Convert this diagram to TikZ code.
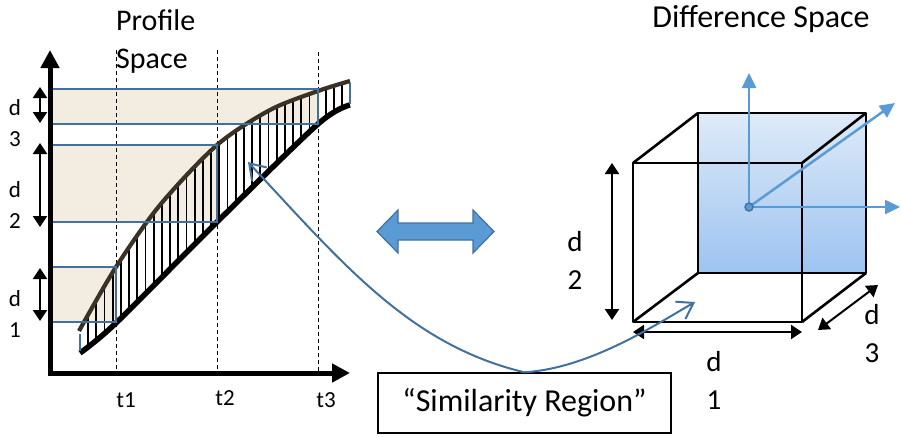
\documentclass[tikz,border=0pt]{standalone}
\usepackage{fontspec}
\setmainfont{Carlito}
\usetikzlibrary{arrows.meta}
\definecolor{edgeblue}{RGB}{65,113,156}
\definecolor{axblue}{RGB}{91,155,213}
\definecolor{tanc}{RGB}{243,236,224}
\definecolor{brownc}{RGB}{58,50,36}
\definecolor{gradtop}{RGB}{222,235,248}
\definecolor{gradbot}{RGB}{157,195,240}
\tikzset{
  axisarrow/.style={line width=5pt, -{Triangle[length=18pt,width=18pt]}},
  dimarrow/.style={line width=2pt, {Triangle[length=11pt,width=14pt]}-{Triangle[length=11pt,width=14pt]}},
  tline/.style={line width=1pt, dash pattern=on 4pt off 3pt},
  regbox/.style={edgeblue, line width=2.8pt},
  cubeedge/.style={line width=2.6pt, line join=round},
  cubeaxis/.style={axblue, line width=2.5pt, -{Triangle[length=15pt,width=14pt]}},
  link/.style={edgeblue, line width=2pt, -{Straight Barb[length=15pt,width=20pt]}},
  smalltxt/.style={font=\fontsize{23}{31}\selectfont, align=center, inner sep=0pt},
  bigtxt/.style={font=\fontsize{29}{38}\selectfont, align=center, inner sep=0pt},
  titletxt/.style={font=\fontsize{30}{38}\selectfont, align=left, inner sep=0pt}
}
\begin{document}
\begin{tikzpicture}[x=1pt,y=-1pt]
\useasboundingbox (0,0) rectangle (901,436);
% ---------- Profile space ----------
\node[titletxt, anchor=west] (ptitle) at (116,42) {Profile\\Space};
\fill[tanc] (50,89) rectangle (318,124);
\fill[tanc] (50,145) rectangle (217,222);
\fill[tanc] (50,267) rectangle (116,322);
\draw[tline] (116,50) -- (116,373);
\draw[tline] (217,50) -- (217,373);
\draw[tline] (318,52) -- (318,373);
\begin{scope}
\clip plot[smooth] coordinates {(79,331) (116,267) (160,205) (217,145) (270,110) (318,91) (350,81)}
  -- plot[smooth] coordinates {(350,105) (318,124) (217,222) (116,323) (80,353)} -- cycle;
\foreach \x in {88,96.2,...,350} \draw[line width=1.8pt] (\x,60) -- (\x,370);
\end{scope}
\draw[brownc, line width=4.2pt] plot[smooth] coordinates {(79,331) (116,267) (160,205) (217,145) (270,110) (318,91) (350,81)};
\draw[line width=5.5pt] plot[smooth] coordinates {(80,353) (116,323) (217,222) (318,124) (350,105)};
\draw[edgeblue, line width=2.2pt] (80,334) -- (80,351);
\draw[edgeblue, line width=2.2pt] (350,83) -- (350,104);
\draw[regbox] (50,89) rectangle (318,124);
\draw[regbox] (50,145) rectangle (217,222);
\draw[regbox] (50,267) rectangle (116,322);
\draw[axisarrow] (50,375.5) -- (50,50);
\draw[axisarrow] (47.5,373) -- (350,373);
\draw[dimarrow] (40,87) -- (40,123);
\draw[dimarrow] (40,143) -- (40,227);
\draw[dimarrow] (40,268) -- (40,321);
\node[smalltxt] (dl3) at (15,123.5) {d\\3};
\node[smalltxt] (dl2) at (15,205) {d\\2};
\node[smalltxt] (dl1) at (15,314.5) {d\\1};
\node[smalltxt, anchor=base] (t1) at (126,407) {t1};
\node[smalltxt, anchor=base] (t2) at (225,405) {t2};
\node[smalltxt, anchor=base] (t3) at (326,407) {t3};
% ---------- double arrow ----------
\draw[edgeblue, fill=axblue, line width=1.2pt, line join=miter]
  (377,231.5) -- (398,210) -- (398,223) -- (473,223) -- (473,210) -- (494,231.5)
  -- (473,253) -- (473,240) -- (398,240) -- (398,253) -- cycle;
% ---------- Difference space ----------
\node[font=\fontsize{32}{38}\selectfont, inner sep=0pt, anchor=base] (dtitle) at (761,28) {Difference Space};
\shade[top color=gradtop, bottom color=gradbot] (698,113) rectangle (866,273);
\coordinate (f1) at (633,163); \coordinate (f2) at (802,163);
\coordinate (f3) at (802,322); \coordinate (f4) at (633,322);
\coordinate (b1) at (698,113); \coordinate (b2) at (866,113);
\coordinate (b3) at (866,273); \coordinate (b4) at (698,273);
\draw[cubeedge] (b1) -- (b2) -- (b3) -- (b4) -- cycle;
\draw[cubeedge] (f1) -- (f2) -- (f3) -- (f4) -- cycle;
\draw[cubeedge] (f1) -- (b1) (f2) -- (b2) (f3) -- (b3) (f4) -- (b4);
\node[circle, fill=axblue, draw=edgeblue, line width=1.2pt, inner sep=0pt, minimum size=7pt] (c) at (749,207) {};
\coordinate (ax1) at (749,73);
\coordinate (ax2) at (900,207);
\coordinate (ax3) at (895,103);
\draw[cubeaxis] (c) -- (ax1);
\draw[cubeaxis] (c) -- (ax2);
\draw[cubeaxis] (c) -- (ax3);
\node[circle, fill=axblue, draw=edgeblue, line width=1.4pt, inner sep=0pt, minimum size=8pt] at (c) {};
\draw[dimarrow] (612,163) -- (612,320);
\draw[dimarrow] (633,332) -- (802,332);
\draw[dimarrow] (818,330) -- (878,285);
\node[bigtxt] (dr2) at (575,260) {d\\2};
\node[bigtxt] (dr1) at (714,380) {d\\1};
\node[bigtxt] (dr3) at (872,334) {d\\3};
% ---------- Similarity region ----------
\node[draw, line width=1.4pt, minimum width=293pt, minimum height=60pt, inner sep=0pt,
  font=\fontsize{32}{38}\selectfont] (sim) at (524.5,403) {“Similarity Region”};
\coordinate (hatchpt) at (248,162);
\coordinate (facept) at (695,302);
\draw[link] (sim.north) .. controls (410,345) and (343,264) .. (hatchpt);
\draw[link] (sim.north) .. controls (590,368) and (655,325) .. (facept);
\end{tikzpicture}
\end{document}
